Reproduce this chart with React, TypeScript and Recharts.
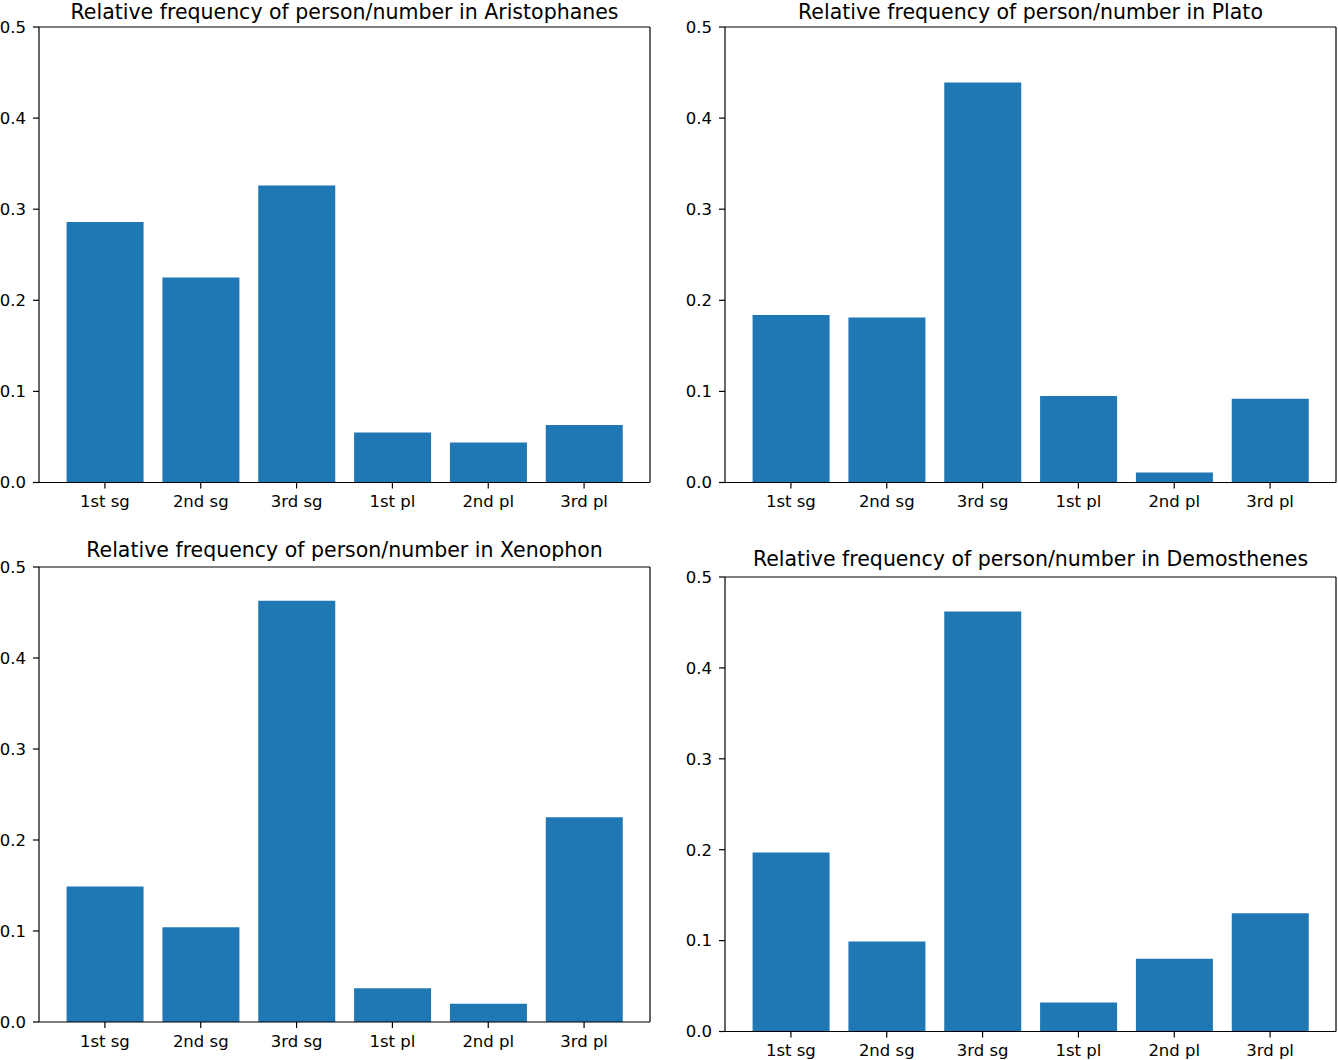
import React from 'react';
import { BarChart, Bar, XAxis, YAxis } from 'recharts';

const categories = ['1st sg', '2nd sg', '3rd sg', '1st pl', '2nd pl', '3rd pl'];
const aristophanes = [0.286, 0.225, 0.326, 0.055, 0.044, 0.063];
const plato = [0.184, 0.181, 0.439, 0.095, 0.011, 0.092];
const xenophon = [0.149, 0.104, 0.463, 0.037, 0.020, 0.225];
const demosthenes = [0.197, 0.099, 0.462, 0.032, 0.080, 0.130];
const yTicks = [0, 0.1, 0.2, 0.3, 0.4, 0.5];

const FONT = '"DejaVu Sans", sans-serif';
const BLUE = '#1f77b4';
const Y_W = 39;
const M_TOP = 12;
const X_H = 44;
const M_RIGHT = 2;
const EDGE = 1; // size of the hidden top / right axes that draw the frame
const TITLE_H = 28;

interface PanelProps {
    title: string;
    values: number[];
    left: number;   // plot area left
    top: number;    // plot area top
    width: number;  // plot area width
    height: number; // plot area height
    titleY: number; // title baseline
}

const Panel: React.FC<PanelProps> = ({ title, values, left, top, width, height, titleY }) => {
    const data = categories.map((c, i) => ({ cat: c, val: values[i] }));
    const tickStyle = { fill: '#000', fontSize: 16.5, fontFamily: FONT };
    const line = { stroke: '#000', strokeWidth: 1.2 };
    const titleTop = Math.max(0, titleY - 21);
    return (
        <>
            <svg style={{ position: 'absolute', left: left - 20, top: titleTop }} width={width + 40} height={TITLE_H}>
                <text x={(width + 40) / 2} y={titleY - titleTop} textAnchor="middle" fontSize={20.5} fontFamily={FONT} fill="#000">
                    {title}
                </text>
            </svg>
            <div style={{ position: 'absolute', left: left - Y_W, top: top - M_TOP - EDGE }}>
                <BarChart
                    width={Y_W + width + EDGE + M_RIGHT}
                    height={M_TOP + EDGE + height + X_H}
                    data={data}
                    margin={{ top: M_TOP, right: M_RIGHT, left: 0, bottom: 0 }}
                    barCategoryGap="10%"
                >
                    <XAxis
                        dataKey="cat"
                        height={X_H}
                        padding={{ left: 18, right: 18 }}
                        tick={tickStyle}
                        tickSize={6}
                        tickMargin={7}
                        axisLine={line}
                        tickLine={line}
                        interval={0}
                    />
                    <XAxis xAxisId="top" dataKey="cat" orientation="top" height={EDGE} tick={false} tickLine={false}
                        axisLine={line} padding={{ left: 18, right: 18 }} />
                    <YAxis
                        domain={[0, 0.5]}
                        ticks={yTicks}
                        width={Y_W}
                        tick={tickStyle}
                        tickSize={6}
                        tickMargin={7}
                        axisLine={line}
                        tickLine={line}
                        tickFormatter={(v: number) => v.toFixed(1)}
                        allowDataOverflow
                    />
                    <YAxis yAxisId="right" orientation="right" width={EDGE} tick={false} tickLine={false}
                        axisLine={line} domain={[0, 0.5]} />
                    <Bar dataKey="val" fill={BLUE} isAnimationActive={false} />
                </BarChart>
            </div>
        </>
    );
};

export default function App() {
    return (
        <div style={{ position: 'absolute', left: 0, top: 0, width: 1338, height: 1060, background: '#fff', fontFamily: FONT }}>
            <Panel title="Relative frequency of person/number in Aristophanes" values={aristophanes}
                left={39} top={26.5} width={611} height={455.5} titleY={19} />
            <Panel title="Relative frequency of person/number in Plato" values={plato}
                left={725} top={26.5} width={611} height={455.5} titleY={19} />
            <Panel title="Relative frequency of person/number in Xenophon" values={xenophon}
                left={39} top={567} width={611} height={455} titleY={557} />
            <Panel title="Relative frequency of person/number in Demosthenes" values={demosthenes}
                left={725} top={576.5} width={611} height={454.5} titleY={566} />
        </div>
    );
}
